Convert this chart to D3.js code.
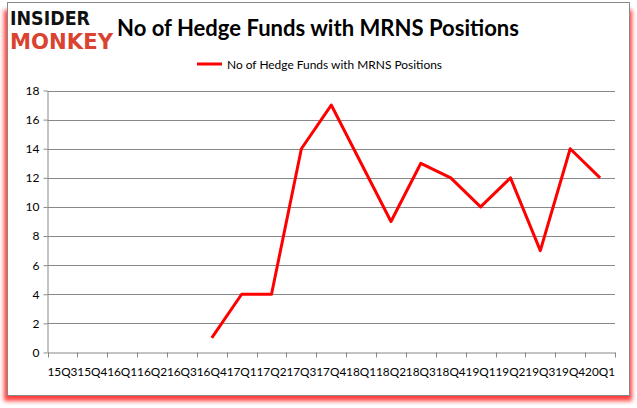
<!DOCTYPE html>
<html><head><meta charset="utf-8">
<script src="https://cdn.jsdelivr.net/npm/d3@7"></script>
<style>body{margin:0;background:#fff}svg{display:block}</style>
</head><body>
<script>
const categories = ["15Q3","15Q4","16Q1","16Q2","16Q3","16Q4","17Q1","17Q2","17Q3","17Q4","18Q1","18Q2","18Q3","18Q4","19Q1","19Q2","19Q3","19Q4","20Q1"];
const values = [null,null,null,null,null,1,4,4,14,17,13,9,13,12,10,12,7,14,12];
const yTicks = [0,2,4,6,8,10,12,14,16,18];
const seriesName = "No of Hedge Funds with MRNS Positions";
const title = "No of Hedge Funds with MRNS Positions";

const W = 637, H = 408;
const svg = d3.select("body").append("svg").attr("width", W).attr("height", H);

const defs = svg.append("defs");
const f = defs.append("filter").attr("id","sh").attr("x","-5%").attr("y","-5%").attr("width","110%").attr("height","115%");
f.append("feGaussianBlur").attr("stdDeviation", 2);

// shadow
svg.append("rect").attr("x", 4).attr("y", 10).attr("width", 628).attr("height", 391)
  .attr("fill", "#ff1a1a").attr("opacity", 0.85).attr("filter","url(#sh)");
svg.append("rect").attr("x", 7.5).attr("y", 2.5).attr("width", 622).attr("height", 393)
  .attr("fill", "#fff").attr("stroke", "#888").attr("stroke-width", 1);

// logo
svg.append("text").attr("x", 10).attr("y", 25).attr("font-family","DejaVu Sans").attr("font-weight","bold")
  .attr("font-size", 19).attr("textLength", 80).attr("lengthAdjust","spacingAndGlyphs").attr("fill","#111").text("INSIDER");
svg.append("text").attr("x", 10).attr("y", 49).attr("font-family","DejaVu Sans").attr("font-weight","bold")
  .attr("font-size", 21).attr("textLength", 103).attr("lengthAdjust","spacingAndGlyphs").attr("fill","#d94330").text("MONKEY");

// title
svg.append("text").attr("x", 117).attr("y", 36).attr("font-family","Lato, 'Open Sans', sans-serif").attr("font-weight","bold")
  .attr("font-size", 22).attr("textLength", 402).attr("lengthAdjust","spacingAndGlyphs").attr("fill","#000").text(title);

// legend
svg.append("line").attr("x1", 197).attr("x2", 222).attr("y1", 64).attr("y2", 64).attr("stroke","#ff0000").attr("stroke-width", 3);
svg.append("text").attr("x", 227).attr("y", 68.5).attr("font-family","Lato, 'Open Sans', sans-serif")
  .attr("font-size", 12).attr("textLength", 215).attr("lengthAdjust","spacingAndGlyphs").attr("fill","#000").text(seriesName);

const x0 = 47.5, x1 = 615, yTop = 90.5, yBot = 352.5;
const x = d3.scaleBand().domain(categories).range([x0, x1]).padding(0);
const y = d3.scaleLinear().domain([0, 18]).range([yBot, yTop]);

// gridlines
svg.append("g").selectAll("line").data(yTicks.filter(d => d > 0)).join("line")
  .attr("x1", x0).attr("x2", x1).attr("y1", d => Math.round(y(d)) + 0.5).attr("y2", d => Math.round(y(d)) + 0.5)
  .attr("stroke", "#888").attr("stroke-width", 1);

// y axis
const ya = svg.append("g").attr("transform", `translate(${x0},0)`)
  .call(d3.axisLeft(y).tickValues(yTicks).tickSize(4).tickSizeOuter(0).tickPadding(4));
ya.select(".domain").attr("stroke","#888");
ya.selectAll(".tick line").attr("stroke","#888");
ya.selectAll(".tick text").attr("font-family","Lato, 'Open Sans', sans-serif").attr("font-size", 12).attr("fill","#000");

// x axis
const xa = svg.append("g").attr("transform", `translate(0,${yBot})`)
  .call(d3.axisBottom(x).tickSize(0).tickPadding(15));
xa.select(".domain").attr("stroke","#888");
xa.selectAll(".tick text").attr("font-family","Lato, 'Open Sans', sans-serif").attr("font-size", 12).attr("fill","#000")
  .attr("textLength", 30).attr("lengthAdjust","spacingAndGlyphs");
svg.append("g").selectAll("line").data(categories.concat(["end"])).join("line")
  .attr("x1", (d,i) => Math.round(x0 + i * x.bandwidth()) + 0.5).attr("x2", (d,i) => Math.round(x0 + i * x.bandwidth()) + 0.5)
  .attr("y1", yBot).attr("y2", yBot + 5).attr("stroke","#888");

// line
const line = d3.line().defined(d => d.v !== null).x(d => x(d.c) + x.bandwidth()/2).y(d => y(d.v));
svg.append("path").datum(categories.map((c,i) => ({c, v: values[i]})))
  .attr("d", line).attr("fill","none").attr("stroke","#ff0000").attr("stroke-width", 3).attr("stroke-linejoin","round");
</script>
</body></html>
